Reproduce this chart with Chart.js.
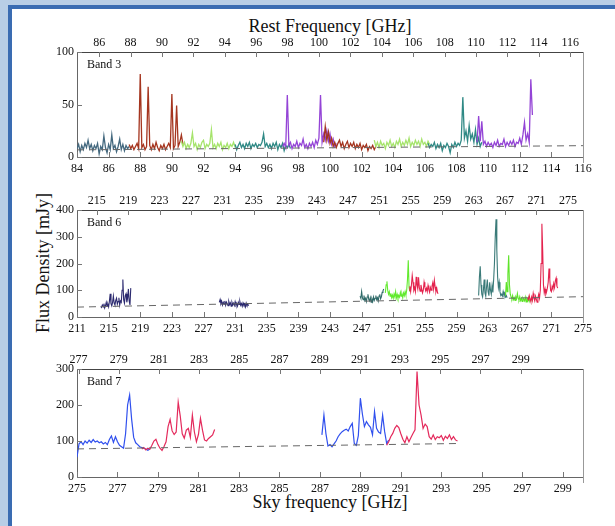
<!DOCTYPE html>
<html lang="en">
<head>
  <meta charset="UTF-8" />
  <title>Spectra</title>
  <style>
    body {
      margin: 0;
      width: 615px;
      height: 526px;
      overflow: hidden;
      position: relative;
      background: #b8cee6;
      font-family: "Liberation Serif", serif;
    }
    #sheet {
      position: absolute;
      left: 8px;
      top: 5px;
      right: -20px;
      bottom: -20px;
      background: #fff;
      border-left: 4px solid #3a6cb2;
      border-top: 4px solid #3a6cb2;
    }
    canvas { position: absolute; left: 0; }
    .title {
      position: absolute;
      font-size: 18px;
      line-height: 18px;
      color: #111;
      white-space: nowrap;
    }
    #restTitle { left: 330px; top: 17px; transform: translateX(-50%); }
    #skyTitle { left: 330px; top: 493px; transform: translateX(-50%); }
    #fluxTitle { left: 43px; top: 263px; transform: translate(-50%, -50%) rotate(-90deg); }
  </style>
</head>
<body>
  <div id="sheet"></div>
  <div class="title" id="restTitle">Rest Frequency [GHz]</div>
  <div class="title" id="fluxTitle">Flux Density [mJy]</div>
  <div class="title" id="skyTitle">Sky frequency [GHz]</div>

  <canvas id="band3" width="615" height="160"></canvas>
  <canvas id="band6" width="615" height="160"></canvas>
  <canvas id="band7" width="615" height="160"></canvas>

  <script src="https://cdn.jsdelivr.net/npm/chart.js"></script>
  <script>
    // rest / sky frequency ratio for the top axes
    const restRatio = 1.007;

    // ---------- Band 3 ----------
    const b3Range = [84, 116];
    const b3YMax = 100;
    const b3SkyTicks = [84, 86, 88, 90, 92, 94, 96, 98, 100, 102, 104, 106, 108, 110, 112, 114, 116];
    const b3RestTicks = [86, 88, 90, 92, 94, 96, 98, 100, 102, 104, 106, 108, 110, 112, 114, 116];
    const b3YTicks = [0, 50, 100];
    const b3Step = 0.1;
    const b3Starts = [84.0, 87.3, 90.6, 94.0, 97.0, 99.6, 102.8, 106.2, 109.3];
    const b3Flux1 = [8, 12, 5, 11, 7, 13, 9, 16, 8, 12, 6, 11, 8, 13, 3, 10, 7, 20, 9, 4, 12, 7, 21, 8, 11, 5, 10, 17, 7, 12, 6, 11, 8, 10];
    const b3Flux2 = [12, 8, 11, 7, 10, 13, 8, 79, 9, 12, 7, 10, 67, 11, 7, 12, 8, 14, 9, 6, 11, 8, 12, 7, 10, 13, 9, 60, 8, 11, 49, 10, 14, 21, 12];
    const b3Flux3 = [15, 10, 14, 8, 12, 9, 13, 23, 10, 13, 7, 12, 9, 14, 16, 8, 12, 10, 13, 26, 9, 12, 8, 13, 10, 14, 7, 11, 9, 13, 8, 12, 10, 14, 9];
    const b3Flux4 = [12, 7, 11, 14, 9, 12, 8, 13, 10, 14, 8, 12, 10, 13, 9, 12, 11, 14, 22, 10, 13, 9, 12, 8, 13, 10, 14, 7, 12, 9, 13, 6, 11, 9, 12, 8];
    const b3Flux5 = [10, 13, 9, 59, 11, 14, 8, 12, 10, 15, 9, 13, 11, 17, 9, 12, 8, 13, 10, 14, 9, 16, 12, 18, 59, 14, 22, 16, 25, 15, 22, 12, 17, 10, 13];
    const b3Flux6 = [14, 29, 16, 24, 13, 18, 10, 14, 9, 13, 16, 10, 14, 8, 12, 15, 9, 13, 10, 14, 8, 12, 9, 13, 7, 11, 9, 12, 6, 10, 8, 11, 7, 10];
    const b3Flux7 = [16, 10, 14, 9, 15, 11, 13, 8, 14, 11, 16, 10, 13, 9, 15, 12, 17, 10, 14, 11, 16, 12, 18, 10, 14, 11, 16, 12, 15, 10, 17, 12, 14, 10, 15, 12];
    const b3Flux8 = [13, 9, 12, 10, 14, 8, 12, 9, 13, 6, 11, 9, 13, 10, 4, 12, 9, 14, 10, 13, 11, 16, 57, 18, 25, 15, 30, 17, 22, 14, 26, 12, 18, 10, 14];
    const b3Flux9 = [14, 39, 15, 34, 12, 15, 10, 14, 11, 13, 9, 14, 11, 16, 10, 13, 12, 17, 10, 14, 11, 15, 12, 16, 10, 14, 13, 18, 12, 21, 33, 16, 22, 14, 74, 40];
    const b3ContFreq = [84, 116];
    const b3ContFlux = [6.8, 10.8];

    // ---------- Band 6 ----------
    const b6Range = [211, 275];
    const b6YMax = 400;
    const b6SkyTicks = [211, 215, 219, 223, 227, 231, 235, 239, 243, 247, 251, 255, 259, 263, 267, 271, 275];
    const b6RestTicks = [215, 219, 223, 227, 231, 235, 239, 243, 247, 251, 255, 259, 263, 267, 271, 275];
    const b6YTicks = [0, 100, 200, 300, 400];
    const b6Step = 0.1;
    const b6Starts = [214.0, 229.0, 246.8, 250.0, 253.0, 261.8, 265.2, 268.0];
    const b6Flux1 = [40, 36, 45, 38, 50, 34, 42, 55, 40, 48, 38, 60, 87, 50, 42, 55, 78, 52, 45, 62, 70, 48, 58, 72, 44, 60, 55, 100, 140, 65, 52, 80, 87, 55, 70, 105, 60, 45, 108];
    const b6Flux2 = [55, 65, 50, 58, 45, 55, 48, 60, 44, 56, 50, 42, 58, 47, 53, 40, 55, 46, 52, 43, 57, 45, 50, 41, 55, 47, 58, 44, 50, 40, 53, 45, 49, 38, 52, 44, 48, 42];
    const b6Flux3 = [78, 70, 95, 72, 65, 80, 62, 70, 58, 75, 85, 66, 60, 72, 55, 68, 58, 75, 62, 70, 80, 65, 72, 60, 78, 85, 68, 75, 92, 98, 105];
    const b6Flux4 = [90, 120, 133, 100, 85, 95, 78, 88, 72, 82, 70, 86, 75, 95, 72, 84, 70, 80, 74, 92, 78, 86, 72, 90, 80, 95, 82, 100, 140, 212, 110, 95];
    const b6Flux5 = [100, 115, 95, 120, 155, 130, 100, 110, 95, 150, 120, 105, 148, 110, 96, 120, 105, 90, 100, 130, 112, 98, 108, 95, 118, 102, 92, 110, 100, 115, 128, 105, 137, 112, 95, 108, 90, 88];
    const b6Flux6 = [80, 150, 190, 120, 85, 75, 100, 140, 90, 78, 112, 140, 95, 80, 130, 100, 85, 118, 92, 140, 200, 300, 365, 250, 150, 110, 130, 95, 80, 85, 78, 95, 82, 88, 75, 80, 72];
    const b6Flux7 = [80, 131, 95, 160, 231, 120, 85, 75, 68, 80, 65, 72, 62, 75, 68, 88, 70, 64, 76, 62, 70, 58, 72, 66, 60, 74, 56, 68, 60, 72, 58, 66, 62];
    const b6Flux8 = [72, 65, 80, 68, 58, 75, 62, 88, 70, 60, 78, 66, 55, 72, 85, 70, 100, 200, 349, 250, 120, 90, 105, 85, 95, 110, 130, 181, 140, 100, 95, 115, 105, 125, 110, 135, 145, 115, 108];
    const b6ContFreq = [211, 275];
    const b6ContFlux = [37, 76];

    // ---------- Band 7 ----------
    const b7Range = [275, 300];
    const b7YMax = 300;
    const b7SkyTicks = [275, 277, 279, 281, 283, 285, 287, 289, 291, 293, 295, 297, 299];
    const b7RestTicks = [277, 279, 281, 283, 285, 287, 289, 291, 293, 295, 297, 299];
    const b7YTicks = [0, 100, 200, 300];
    const b7Step = 0.1;
    const b7Starts = [275.0, 278.2, 287.1, 290.3];
    const b7Flux1 = [55, 92, 98, 90, 100, 94, 102, 96, 104, 97, 100, 95, 98, 92, 96, 90, 104, 114, 96, 112, 98, 88, 84, 80, 120, 200, 228, 160, 110, 95, 90, 84, 82, 80, 78, 74, 78];
    const b7Flux2 = [78, 82, 75, 80, 77, 88, 100, 105, 90, 80, 74, 85, 98, 140, 160, 128, 118, 125, 208, 170, 120, 108, 130, 135, 110, 172, 125, 98, 118, 163, 130, 103, 100, 107, 112, 117, 132];
    const b7Flux3 = [117, 172, 120, 86, 90, 84, 92, 100, 112, 120, 126, 130, 133, 128, 140, 149, 93, 88, 115, 219, 175, 140, 154, 145, 138, 117, 182, 135, 125, 121, 172, 126, 93, 103];
    const b7Flux4 = [88, 98, 112, 121, 135, 143, 137, 120, 105, 95, 112, 98, 110, 121, 131, 293, 200, 172, 135, 147, 140, 112, 105, 117, 104, 112, 109, 115, 102, 113, 107, 117, 104, 112, 103, 100];
    const b7ContFreq = [275, 293.8];
    const b7ContFlux = [78, 93];

    // line colours per segment
    const b3Colors = ['#44697f', '#a5351f', '#a6e46c', '#2f8985', '#9444d6', '#a5351f', '#a6e46c', '#2f8985', '#9444d6'];
    const b6Colors = ['#2c2a70', '#2c2a70', '#2f6a69', '#62ea2e', '#e4234e', '#3b7b79', '#5ee42a', '#e4234e'];
    const b7Colors = ['#3050ee', '#e42a5c', '#3050ee', '#e42a5c'];

    const tickFont = { family: '"Liberation Serif", serif', size: 12 };

    function segment(start, step, flux, color, order, width) {
      return {
        data: flux.map((v, i) => ({ x: +(start + i * step).toFixed(3), y: v })),
        borderColor: color,
        borderWidth: width,
        pointRadius: 0,
        tension: 0,
        fill: false,
        order: order,
        xAxisID: 'x',
        yAxisID: 'y'
      };
    }

    // inward ticks, right frame line and band label
    const framePlugin = {
      id: 'frame',
      afterDraw(chart, args, opts) {
        const { ctx, chartArea: a, scales } = chart;
        ctx.save();
        ctx.strokeStyle = '#777';
        ctx.lineWidth = 1;
        ctx.beginPath();
        scales.x.ticks.forEach(t => {
          const p = Math.round(scales.x.getPixelForValue(t.value)) + 0.5;
          ctx.moveTo(p, a.bottom);
          ctx.lineTo(p, a.bottom - 5);
        });
        scales.x2.ticks.forEach(t => {
          const p = Math.round(scales.x2.getPixelForValue(t.value)) + 0.5;
          ctx.moveTo(p, a.top);
          ctx.lineTo(p, a.top + 5);
        });
        scales.y.ticks.forEach(t => {
          const p = Math.round(scales.y.getPixelForValue(t.value)) + 0.5;
          ctx.moveTo(a.left, p);
          ctx.lineTo(a.left + 5, p);
        });
        ctx.stroke();

        ctx.strokeStyle = '#999';
        ctx.beginPath();
        ctx.moveTo(Math.round(a.right) + 0.5, a.top);
        ctx.lineTo(Math.round(a.right) + 0.5, a.bottom + 6);
        ctx.stroke();

        ctx.fillStyle = '#111';
        ctx.font = '12px "Liberation Serif", serif';
        ctx.fillText(opts.label, a.left + 10, a.top + 16);
        ctx.restore();
      }
    };

    function makeBand(id, b) {
      const canvas = document.getElementById(id);
      const canvasTop = b.plotTop - 22;
      canvas.style.top = canvasTop + 'px';
      const xHeight = canvas.height - 22 - (b.plotBottom - b.plotTop);

      const n = b.fluxes.length;
      const datasets = b.fluxes.map((f, i) => segment(b.starts[i], b.step, f, b.colors[i], n - i, b.lineWidth));
      datasets.push({
        data: b.contFreq.map((f, i) => ({ x: f, y: b.contFlux[i] })),
        borderColor: '#666',
        borderWidth: 1,
        borderDash: [7, 5],
        pointRadius: 0,
        fill: false,
        order: 0,
        xAxisID: 'x',
        yAxisID: 'y'
      });

      const noGrid = { display: false, drawTicks: false, tickLength: 0 };

      new Chart(canvas, {
        type: 'line',
        data: { datasets: datasets },
        options: {
          responsive: false,
          animation: false,
          events: [],
          layout: { padding: { left: 0, right: 32, top: 0, bottom: 0 } },
          plugins: {
            legend: { display: false },
            tooltip: { enabled: false },
            frame: { label: b.label }
          },
          scales: {
            x: {
              type: 'linear',
              position: 'bottom',
              min: b.range[0],
              max: b.range[1],
              afterBuildTicks: s => { s.ticks = b.skyTicks.map(v => ({ value: v })); },
              afterFit: s => { s.height = xHeight; },
              grid: noGrid,
              border: { color: '#666' },
              ticks: { font: tickFont, color: '#111', padding: 5, maxRotation: 0, autoSkip: false }
            },
            x2: {
              type: 'linear',
              position: 'top',
              min: b.range[0] * restRatio,
              max: b.range[1] * restRatio,
              afterBuildTicks: s => { s.ticks = b.restTicks.map(v => ({ value: v })); },
              afterFit: s => { s.height = 22; },
              grid: noGrid,
              border: { color: '#444' },
              ticks: { font: tickFont, color: '#111', padding: 2, maxRotation: 0, autoSkip: false }
            },
            y: {
              type: 'linear',
              position: 'left',
              min: 0,
              max: b.yMax,
              afterBuildTicks: s => { s.ticks = b.yTicks.map(v => ({ value: v })); },
              afterFit: s => { s.width = 77; },
              grid: noGrid,
              border: { color: '#666' },
              ticks: { font: tickFont, color: '#111', padding: 3 }
            }
          }
        },
        plugins: [framePlugin]
      });
    }

    makeBand('band3', {
      label: 'Band 3', plotTop: 52, plotBottom: 157, lineWidth: 1.3,
      range: b3Range, yMax: b3YMax, skyTicks: b3SkyTicks, restTicks: b3RestTicks, yTicks: b3YTicks,
      step: b3Step, starts: b3Starts, colors: b3Colors,
      fluxes: [b3Flux1, b3Flux2, b3Flux3, b3Flux4, b3Flux5, b3Flux6, b3Flux7, b3Flux8, b3Flux9],
      contFreq: b3ContFreq, contFlux: b3ContFlux
    });

    makeBand('band6', {
      label: 'Band 6', plotTop: 210, plotBottom: 317, lineWidth: 1.1,
      range: b6Range, yMax: b6YMax, skyTicks: b6SkyTicks, restTicks: b6RestTicks, yTicks: b6YTicks,
      step: b6Step, starts: b6Starts, colors: b6Colors,
      fluxes: [b6Flux1, b6Flux2, b6Flux3, b6Flux4, b6Flux5, b6Flux6, b6Flux7, b6Flux8],
      contFreq: b6ContFreq, contFlux: b6ContFlux
    });

    makeBand('band7', {
      label: 'Band 7', plotTop: 369, plotBottom: 477, lineWidth: 1.2,
      range: b7Range, yMax: b7YMax, skyTicks: b7SkyTicks, restTicks: b7RestTicks, yTicks: b7YTicks,
      step: b7Step, starts: b7Starts, colors: b7Colors,
      fluxes: [b7Flux1, b7Flux2, b7Flux3, b7Flux4],
      contFreq: b7ContFreq, contFlux: b7ContFlux
    });
  </script>
</body>
</html>
